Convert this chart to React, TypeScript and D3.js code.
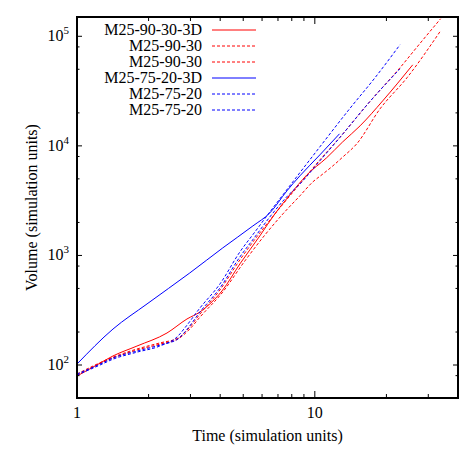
import React from "react";
import * as d3 from "d3";

const W = 463;
const H = 463;
const margin = { top: 17, right: 5, bottom: 65, left: 77 };

// ---- data (time, volume) ----
const redSolidT = [1, 1.19, 1.417, 1.787, 2.39, 2.9, 3.29, 3.62, 4.07, 4.84, 5.87, 6.79, 7.85, 9.26, 11.2, 13.1, 15.5, 19.3, 25.8];
const redSolidV = [79.3, 97.9, 121, 149, 196, 263, 305, 361, 474, 836, 1507, 2393, 3568, 5436, 7770, 10880, 15230, 25760, 54920];

const redDash1T = [1, 1.417, 1.787, 2.23, 2.66, 2.93, 3.29, 3.99, 4.84, 5.87, 7.13, 8.65, 10.5, 12.7, 17.0, 22.8, 27.6, 33.8];
const redDash1V = [82.8, 118, 140, 159, 176, 213, 292, 484, 910, 1605, 2716, 4498, 7449, 11830, 25220, 51570, 85400, 144500];

const redDash2T = [1, 1.417, 1.787, 2.23, 2.66, 2.98, 3.29, 4.07, 5.08, 6.17, 7.34, 8.65, 9.81, 10.8, 11.9, 13.1, 15.0, 18.8, 24.4, 33.8];
const redDash2V = [81, 116, 137, 155, 173, 213, 274, 454, 891, 1539, 2393, 3495, 4691, 5530, 6560, 7900, 10430, 21770, 41800, 112300];

const blueSolidT = [1, 1.417, 1.97, 2.98, 4.1, 5.49, 6.47, 7.63, 8.65, 10.5, 12.7];
const blueSolidV = [102, 213, 361, 692, 1171, 1859, 2444, 3882, 5321, 8275, 12880];

const blueDash1T = [1, 1.25, 1.417, 1.787, 2.23, 2.66, 2.84, 3.29, 3.99, 4.84, 5.6, 6.47, 7.34, 8.08, 10.5, 14.0, 17.9, 22.8];
const blueDash1V = [81, 100, 113, 131, 149, 184, 218, 332, 549, 1076, 1639, 2496, 3568, 4691, 9792, 21770, 41800, 83640];

const blueDash2T = [1, 1.25, 1.417, 1.787, 2.23, 2.66, 2.84, 3.29, 3.99, 4.84, 5.6, 6.47, 7.48, 8.9, 10.5, 12.7, 17.0, 22.8];
const blueDash2V = [82.8, 102, 116, 134, 152, 173, 200, 305, 505, 969, 1476, 2247, 3281, 4790, 7295, 11830, 25220, 50500];

const seriesNames = ["M25-90-30-3D", "M25-90-30", "M25-90-30", "M25-75-20-3D", "M25-75-20", "M25-75-20"];
const seriesT = [redSolidT, redDash1T, redDash2T, blueSolidT, blueDash1T, blueDash2T];
const seriesV = [redSolidV, redDash1V, redDash2V, blueSolidV, blueDash1V, blueDash2V];
const seriesColor = ["#ff0000", "#ff0000", "#ff0000", "#0000ff", "#0000ff", "#0000ff"];
const seriesDash = [null, "3,2", "3,2", null, "3,2", "3,2"];

const xMajor = [1, 10];
const xMinor = [2, 3, 4, 5, 6, 7, 8, 9, 20, 30];
const yMajor = [100, 1000, 10000, 100000];
const yExp = ["2", "3", "4", "5"];
const yMinor = [80, 200, 500, 800, 2000, 5000, 8000, 20000, 50000, 80000];

export default function App() {
  const x0 = margin.left;
  const x1 = W - margin.right;
  const y0 = H - margin.bottom;
  const y1 = margin.top;

  const x = d3.scaleLog().domain([1, 40]).range([x0, x1]);
  const y = d3.scaleLog().domain([50, 150000]).range([y0, y1]);

  const line = d3
    .line<[number, number]>()
    .x((d) => x(d[0]))
    .y((d) => y(d[1]))
    .curve(d3.curveMonotoneX);

  const font = "'Liberation Serif', 'Times New Roman', serif";

  return (
    <svg
      width={W}
      height={H}
      style={{ position: "absolute", left: 0, top: 0, background: "#fff" }}
      fontFamily={font}
    >
      <defs>
        <clipPath id="plot">
          <rect x={x0} y={y1} width={x1 - x0} height={y0 - y1} />
        </clipPath>
      </defs>

      {/* curves */}
      <g clipPath="url(#plot)" fill="none">
        {seriesT.map((ts, i) => (
          <path
            key={i}
            d={line(ts.map((t, j) => [t, seriesV[i][j]]) as [number, number][]) || ""}
            stroke={seriesColor[i]}
            strokeWidth={1}
            strokeDasharray={seriesDash[i] || undefined}
          />
        ))}
      </g>

      {/* ticks */}
      <g stroke="#000" strokeWidth={1}>
        {xMajor.map((v) => (
          <g key={"xM" + v}>
            <line x1={x(v)} x2={x(v)} y1={y0} y2={y0 - 7} />
            <line x1={x(v)} x2={x(v)} y1={y1} y2={y1 + 7} />
          </g>
        ))}
        {xMinor.map((v) => (
          <g key={"xm" + v}>
            <line x1={x(v)} x2={x(v)} y1={y0} y2={y0 - 4} />
            <line x1={x(v)} x2={x(v)} y1={y1} y2={y1 + 4} />
          </g>
        ))}
        {yMajor.map((v) => (
          <g key={"yM" + v}>
            <line x1={x0} x2={x0 + 5} y1={y(v)} y2={y(v)} />
            <line x1={x1} x2={x1 - 5} y1={y(v)} y2={y(v)} />
          </g>
        ))}
        {yMinor.map((v) => (
          <g key={"ym" + v}>
            <line x1={x0} x2={x0 + 2.5} y1={y(v)} y2={y(v)} />
            <line x1={x1} x2={x1 - 2.5} y1={y(v)} y2={y(v)} />
          </g>
        ))}
      </g>

      {/* frame */}
      <rect x={x0} y={y1} width={x1 - x0} height={y0 - y1} fill="none" stroke="#000" strokeWidth={2} />

      {/* tick labels */}
      <g fontSize={16} fill="#000">
        {xMajor.map((v) => (
          <text key={"xl" + v} x={x(v)} y={y0 + 20} textAnchor="middle">
            {v}
          </text>
        ))}
        {yMajor.map((v, i) => (
          <text key={"yl" + v} x={x0 - 8} y={y(v) + 5} textAnchor="end">
            10
            <tspan dy={-7} fontSize={11}>
              {yExp[i]}
            </tspan>
          </text>
        ))}
      </g>

      {/* axis titles */}
      <text x={(x0 + x1) / 2} y={441} textAnchor="middle" fontSize={16}>
        Time (simulation units)
      </text>
      <text
        transform={`translate(37,${(y0 + y1) / 2}) rotate(-90)`}
        textAnchor="middle"
        fontSize={16}
      >
        Volume (simulation units)
      </text>

      {/* legend */}
      <g>
        {seriesNames.map((name, i) => (
          <g key={"lg" + i} transform={`translate(0,${30 + i * 16})`}>
            <text x={202} y={5} textAnchor="end" fontSize={16}>
              {name}
            </text>
            <line
              x1={212}
              x2={256}
              y1={0}
              y2={0}
              stroke={seriesColor[i]}
              strokeWidth={1}
              strokeDasharray={seriesDash[i] || undefined}
            />
          </g>
        ))}
      </g>
    </svg>
  );
}
